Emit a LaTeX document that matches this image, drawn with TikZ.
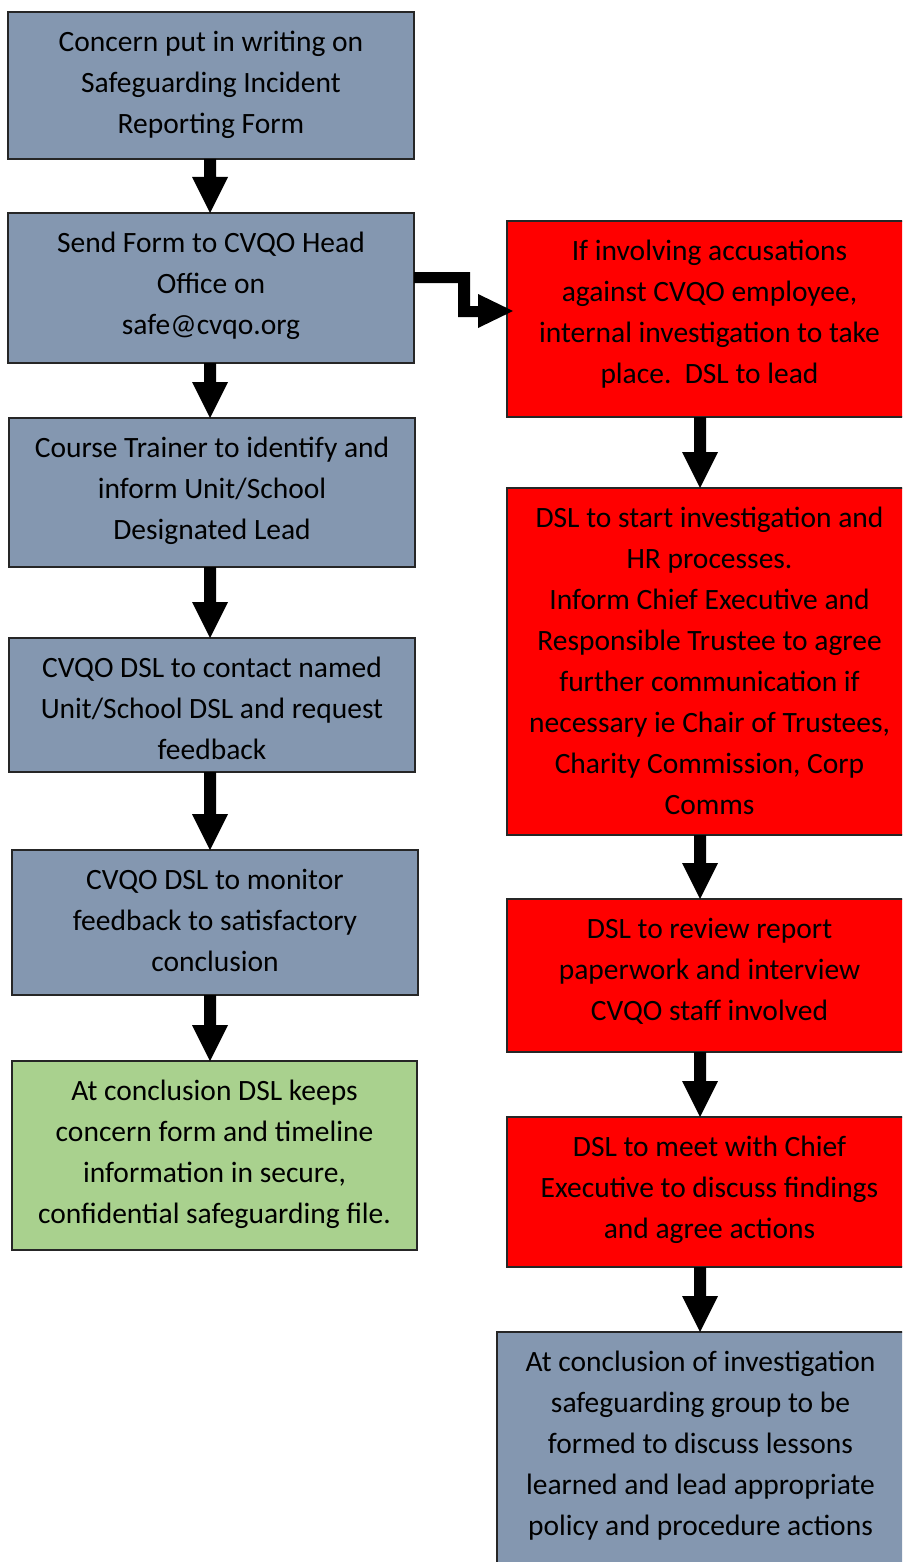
\documentclass[tikz,border=0pt]{standalone}
\usepackage{fontspec}
\setmainfont{Carlito}
\usetikzlibrary{calc}
\definecolor{boxblue}{HTML}{8497B0}
\definecolor{boxgreen}{HTML}{A9D18E}
\definecolor{boxred}{HTML}{FF0000}
\tikzset{
  box/.style={draw=black!85, line width=1.1pt, anchor=north west, inner sep=0pt, outer sep=0pt},
  bluebox/.style={box, fill=boxblue},
  greenbox/.style={box, fill=boxgreen},
  redbox/.style={box, fill=boxred},
  txt/.style={anchor=north, inner sep=0pt, align=center, text=black, font=\fontsize{29.5}{41}\selectfont},
  arrowfill/.style={fill=black},
}
\newcommand\blkdownarrow[3]{%
  \fill[arrowfill] let \p1=(#2.south), \p2=(#3.north) in
    (#1pt-6pt,\y1) -- (#1pt+6pt,\y1) -- (#1pt+6pt,\y2+36pt) -- (#1pt+18pt,\y2+36pt)
    -- (#1pt,\y2) -- (#1pt-18pt,\y2+36pt) -- (#1pt-6pt,\y2+36pt) -- cycle;}
\newcommand\firstline{\rule{0pt}{30pt}}
\begin{document}
\begin{tikzpicture}[x=1pt,y=-1pt]
\useasboundingbox (0,0) rectangle (902,1562);
\clip (0,0) rectangle (902,1562);
% left column
\node[bluebox, minimum width=406pt, minimum height=147pt] (B1) at (8,12) {};
\node[bluebox, minimum width=406pt, minimum height=150pt] (B2) at (8,213) {};
\node[bluebox, minimum width=406pt, minimum height=149pt] (B3) at (9,418) {};
\node[bluebox, minimum width=406pt, minimum height=134pt] (B4) at (9,638) {};
\node[bluebox, minimum width=406pt, minimum height=145pt] (B5) at (12,850) {};
\node[greenbox, minimum width=405pt, minimum height=189pt] (G) at (12,1061) {};
% right column
\node[redbox, minimum width=405pt, minimum height=196pt] (R1) at (507,221) {};
\node[redbox, minimum width=405pt, minimum height=347pt] (R2) at (507,488) {};
\node[redbox, minimum width=405pt, minimum height=153pt] (R3) at (507,899) {};
\node[redbox, minimum width=405pt, minimum height=150pt] (R4) at (507,1117) {};
\node[bluebox, minimum width=407pt, minimum height=260pt] (R5) at (497,1332) {};
% texts
\node[txt] (T1) at ([yshift=-9pt]B1.north) {\firstline Concern put in writing on\\Safeguarding Incident\\Reporting Form};
\node[txt] (T2) at ([yshift=-9pt]B2.north) {\firstline Send Form to CVQO Head\\Office on\\safe@cvqo.org};
\node[txt] (T3) at ([yshift=-9pt]B3.north) {\firstline Course Trainer to identify and\\inform Unit/School\\Designated Lead};
\node[txt] (T4) at ([yshift=-9pt]B4.north) {\firstline CVQO DSL to contact named\\Unit/School DSL and request\\feedback};
\node[txt] (T5) at ([yshift=-9pt]B5.north) {\firstline CVQO DSL to monitor\\feedback to satisfactory\\conclusion};
\node[txt] (TG) at ([yshift=-9pt]G.north) {\firstline At conclusion DSL keeps\\concern form and timeline\\information in secure,\\confidential safeguarding file.};
\node[txt] (TR1) at ([yshift=-9pt]R1.north) {\firstline If involving accusations\\against CVQO employee,\\internal investigation to take\\place.\ \ DSL to lead};
\node[txt] (TR2) at ([yshift=-9pt]R2.north) {\firstline DSL to start investigation and\\HR processes.\\Inform Chief Executive and\\Responsible Trustee to agree\\further communication if\\necessary ie Chair of Trustees,\\Charity Commission, Corp\\Comms};
\node[txt] (TR3) at ([yshift=-9pt]R3.north) {\firstline DSL to review report\\paperwork and interview\\CVQO staff involved};
\node[txt] (TR4) at ([yshift=-9pt]R4.north) {\firstline DSL to meet with Chief\\Executive to discuss findings\\and agree actions};
\node[txt] (TR5) at ([yshift=-9pt]R5.north) {\firstline At conclusion of investigation\\safeguarding group to be\\formed to discuss lessons\\learned and lead appropriate\\policy and procedure actions};
% arrows
\blkdownarrow{210}{B1}{B2}
\blkdownarrow{210}{B2}{B3}
\blkdownarrow{210}{B3}{B4}
\blkdownarrow{210}{B4}{B5}
\blkdownarrow{210}{B5}{G}
\blkdownarrow{700}{R1}{R2}
\blkdownarrow{700}{R2}{R3}
\blkdownarrow{700}{R3}{R4}
\blkdownarrow{700}{R4}{R5}
% bent arrow from B2 to R1
\fill[arrowfill] ($(B2.east)+(0,-16)$) -- ++(56,0) -- ++(0,34) -- ++(8,0) -- ++(0,-12)
  -- ++(35,17) -- ++(-35,17) -- ++(0,-11) -- ++(-20,0) -- ++(0,-34) -- ++(-44,0) -- cycle;
\end{tikzpicture}
\end{document}
